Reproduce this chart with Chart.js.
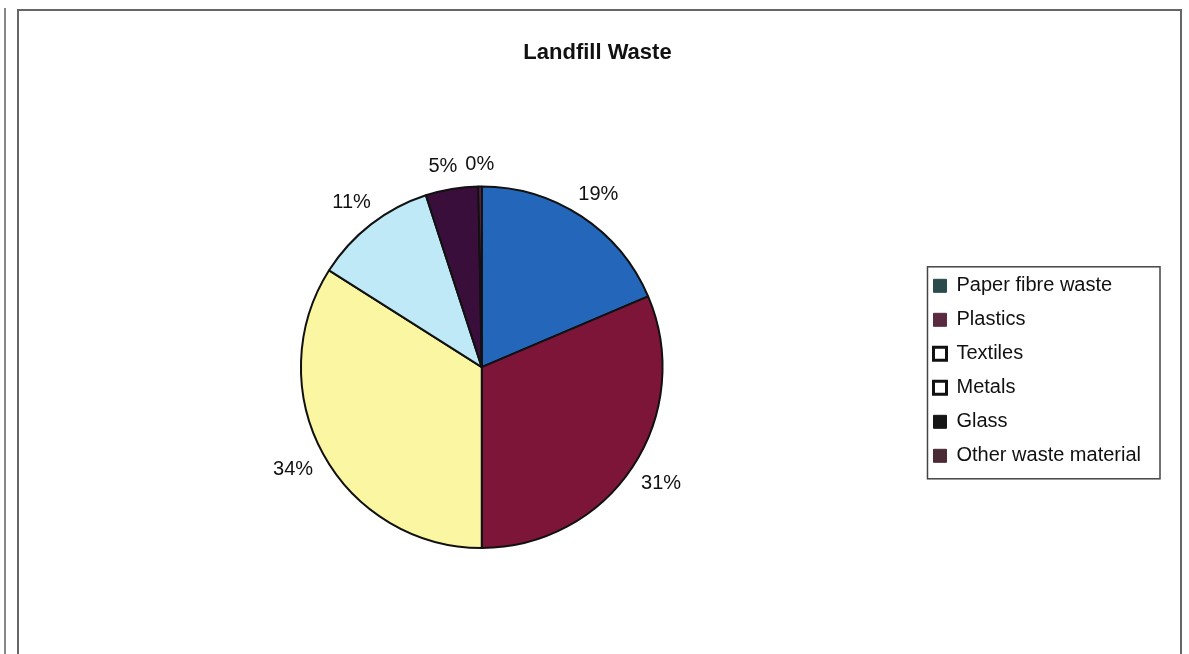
<!DOCTYPE html>
<html>
<head>
<meta charset="utf-8">
<script src="https://cdn.jsdelivr.net/npm/chart.js@4"></script>
<style>
  body { margin: 0; background: #fff; }
  #wrap { position: relative; width: 1189px; height: 654px; overflow: hidden; }
  #frame { position: absolute; left: 17px; top: 9px; width: 1161px; height: 700px; border: 2px solid #666; }
  #edge { position: absolute; left: 4px; top: 8px; width: 2px; height: 660px; background: #888; }
  canvas { position: absolute; left: 0; top: 0; }
</style>
</head>
<body>
<div id="wrap">
  <canvas id="pieChart" width="1189" height="654"></canvas>
  <div id="frame"></div>
  <div id="edge"></div>
</div>
<script>
// data (percent of landfill waste)
let categories = ["Paper fibre waste", "Plastics", "Textiles", "Metals", "Glass", "Other waste material"];
let shares = [18.6, 31.4, 34.0, 11.0, 4.7, 0.3];

let sliceColors = ["#2467ba", "#7d1538", "#faf6a2", "#bfe9f7", "#3a0e3a", "#6a2a4a"];
// the legend swatches in the original do not match the slices
let legendFill = ["#2a4a4c", "#5a2a40", "#ffffff", "#ffffff", "#151515", "#4a2a35"];
let legendLine = ["#2a4a4c", "#5a2a40", "#111111", "#111111", "#151515", "#4a2a35"];

const pctLabels = {
  id: 'pctLabels',
  afterDatasetsDraw(chart) {
    const ctx = chart.ctx;
    const meta = chart.getDatasetMeta(0);
    const vals = chart.data.datasets[0].data;
    const total = vals.reduce((a, b) => a + b, 0);
    ctx.save();
    ctx.font = '20px "Liberation Sans", Arial, sans-serif';
    ctx.fillStyle = '#111';
    ctx.textAlign = 'center';
    ctx.textBaseline = 'middle';
    // excel-like placement: labels closer at top/bottom, pushed out sideways
    const items = meta.data.map((arc, i) => {
      const mid = (arc.startAngle + arc.endAngle) / 2;
      const dx = Math.cos(mid), dy = Math.sin(mid);
      const r = arc.outerRadius + 31 - 9 * Math.pow(dy, 4);
      const text = Math.round(vals[i] / total * 100) + '%';
      const w = ctx.measureText(text).width;
      return { text, w, x: arc.x + dx * r + dx * 4, y: arc.y + dy * r };
    });
    // nudge overlapping neighbours apart
    for (let i = items.length - 2; i >= 0; i--) {
      const a = items[i], b = items[i + 1];
      if (Math.abs(a.y - b.y) < 20) {
        const minGap = (a.w + b.w) / 2 + 8;
        if (b.x - a.x < minGap && a.x < b.x) a.x = b.x - minGap;
      }
    }
    items.forEach(it => ctx.fillText(it.text, it.x, it.y));
    ctx.restore();
  }
};

const legendBorder = {
  id: 'legendBorder',
  afterDraw(chart) {
    const boxes = chart.legend.legendHitBoxes;
    if (!boxes || !boxes.length) return;
    const left = boxes[0].left - 6;
    const top = boxes[0].top - 9;
    const last = boxes[boxes.length - 1];
    const bottom = last.top + last.height + 13;
    const right = Math.max(...boxes.map(b => b.left + b.width)) + 19;
    const ctx = chart.ctx;
    ctx.save();
    ctx.strokeStyle = '#444';
    ctx.lineWidth = 1.5;
    ctx.strokeRect(left, top, right - left, bottom - top);
    ctx.restore();
  }
};

new Chart(document.getElementById('pieChart'), {
  type: 'pie',
  data: {
    labels: categories,
    datasets: [{
      data: shares,
      backgroundColor: sliceColors,
      borderColor: '#111',
      borderWidth: 2
    }]
  },
  options: {
    responsive: false,
    animation: false,
    events: [],
    layout: {
      padding: { left: 44, right: 38, top: 9, bottom: 105 }
    },
    plugins: {
      title: {
        display: true,
        text: 'Landfill Waste',
        color: '#111',
        font: { family: '"Liberation Sans", Arial, sans-serif', size: 22, weight: 'bold' },
        padding: { top: 31, bottom: 119 }
      },
      legend: {
        display: true,
        position: 'right',
        fullSize: false,
        title: {
          display: true,
          text: '',
          color: '#111',
          font: { size: 1 },
          padding: { top: 0, bottom: 6 }
        },
        labels: {
          color: '#111',
          boxWidth: 13,
          boxHeight: 13,
          padding: 14,
          font: { family: '"Liberation Sans", Arial, sans-serif', size: 20 },
          generateLabels(chart) {
            return categories.map((c, i) => ({
              text: c,
              fontColor: '#111',
              fillStyle: legendFill[i],
              strokeStyle: legendLine[i],
              lineWidth: (i === 2 || i === 3) ? 3 : 1,
              hidden: false,
              index: i
            }));
          }
        }
      },
      tooltip: { enabled: false }
    }
  },
  plugins: [pctLabels, legendBorder]
});
</script>
</body>
</html>
